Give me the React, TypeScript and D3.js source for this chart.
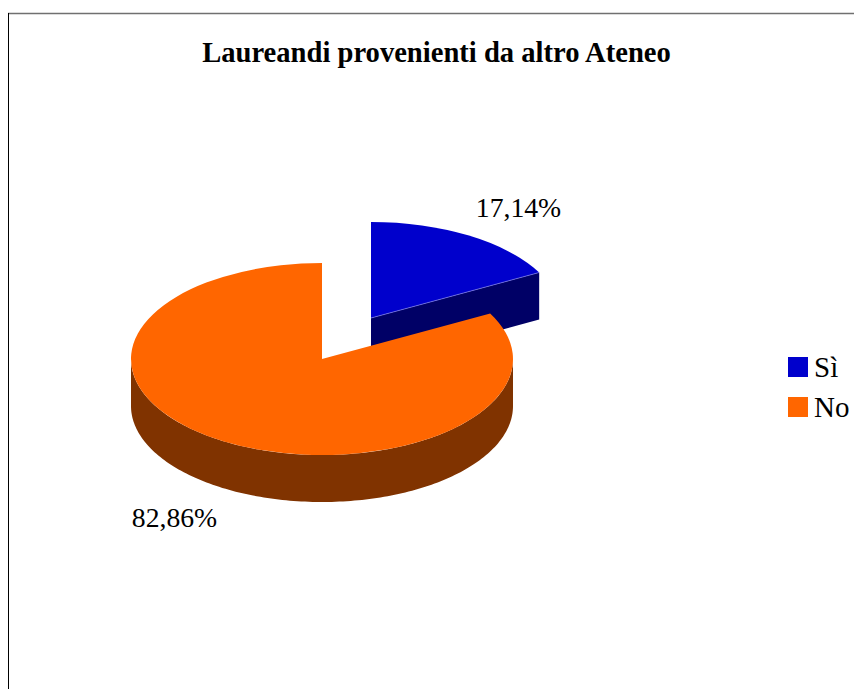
import * as d3 from 'd3';
import React, {useEffect, useRef} from 'react';

const title = "Laureandi provenienti da altro Ateneo";
const categories = ["Sì", "No"];
const shares = [17.14, 82.86];
const shareLabels = ["17,14%", "82,86%"];
const topColors = ["#0000cc", "#ff6600"];
const sideColors = ["#000066", "#803300"];

const FONT = "'Liberation Serif', serif";
const W = 854, H = 689;
const rx = 191, ry = 96, depth = 47;

export default function App() {
    const ref = useRef<SVGSVGElement>(null);

    useEffect(() => {
        const svg = d3.select(ref.current);
        svg.selectAll("*").remove();

        // chart frame: only top and left edges show in the crop
        svg.append("line").attr("x1", 8).attr("x2", W).attr("y1", 13.5).attr("y2", 13.5)
            .attr("stroke", "#707070").attr("stroke-width", 1.4);
        svg.append("line").attr("x1", 8.5).attr("x2", 8.5).attr("y1", 13).attr("y2", H)
            .attr("stroke", "#000").attr("stroke-width", 1);

        svg.append("text").text(title)
            .attr("x", 436.5).attr("y", 62)
            .attr("text-anchor", "middle")
            .style("font-family", FONT).style("font-weight", "bold").style("font-size", "28.6px")
            .attr("fill", "#000");

        const slices = d3.pie<number>().sort(null)(shares);
        const arc = d3.arc<d3.PieArcDatum<number>>().innerRadius(0).outerRadius(rx);

        // squash the flat pie into an ellipse
        const sy = ry / rx;
        const centers: [number, number][] = [[371, 318], [322, 359]];
        const edge = (a: number) => [rx * Math.sin(a), -ry * Math.cos(a)];

        // blue slice is pulled out, so draw it first, orange goes on top
        const blue = slices[0], orange = slices[1];
        const [bx, by] = centers[0];
        const [ex, ey] = edge(blue.endAngle);

        svg.append("path")
            .attr("d", d3.line()([
                [bx, by], [bx + ex, by + ey], [bx + ex, by + ey + depth], [bx, by + depth]
            ]))
            .attr("fill", sideColors[0]);
        svg.append("path")
            .attr("d", arc(blue))
            .attr("transform", `translate(${bx},${by}) scale(1,${sy})`)
            .attr("fill", topColors[0]);
        svg.append("path")
            .attr("d", d3.line()([[bx, by], [bx + ex, by + ey]]))
            .attr("stroke", "#8080e6").attr("stroke-width", 0.7).attr("fill", "none");

        // orange wall, only the front half of the rim
        const [ox, oy] = centers[1];
        const angles = d3.range(Math.PI / 2, Math.PI * 1.5 + 0.01, 0.02);
        const rim = angles.map((a) => {
            const [x, y] = edge(a);
            return [ox + x, oy + y] as [number, number];
        });
        const wall = rim.concat(rim.slice().reverse().map(([x, y]) => [x, y + depth] as [number, number]));
        svg.append("path")
            .attr("d", d3.line()(wall) + "Z")
            .attr("fill", sideColors[1]);
        svg.append("path")
            .attr("d", arc(orange))
            .attr("transform", `translate(${ox},${oy}) scale(1,${sy})`)
            .attr("fill", topColors[1]);

        // value labels
        const labelPos = [[518.5, 217], [174.5, 527]];
        shareLabels.forEach((t, i) => {
            svg.append("text").text(t)
                .attr("x", labelPos[i][0]).attr("y", labelPos[i][1])
                .attr("text-anchor", "middle")
                .style("font-family", FONT).style("font-size", "27.7px")
                .attr("fill", "#000");
        });

        // legend
        const legendY = d3.scalePoint<string>().domain(categories).range([357, 397]);
        categories.forEach((c, i) => {
            svg.append("rect")
                .attr("x", 788).attr("y", legendY(c)!)
                .attr("width", 20).attr("height", 20)
                .attr("fill", topColors[i]);
            svg.append("text").text(c)
                .attr("x", 814).attr("y", legendY(c)! + 20)
                .style("font-family", FONT).style("font-size", "29px")
                .attr("fill", "#000");
        });
    }, []);

    return (
        <svg ref={ref} width={W} height={H}
            style={{position: "absolute", left: 0, top: 0, background: "#fff"}} />
    );
}
